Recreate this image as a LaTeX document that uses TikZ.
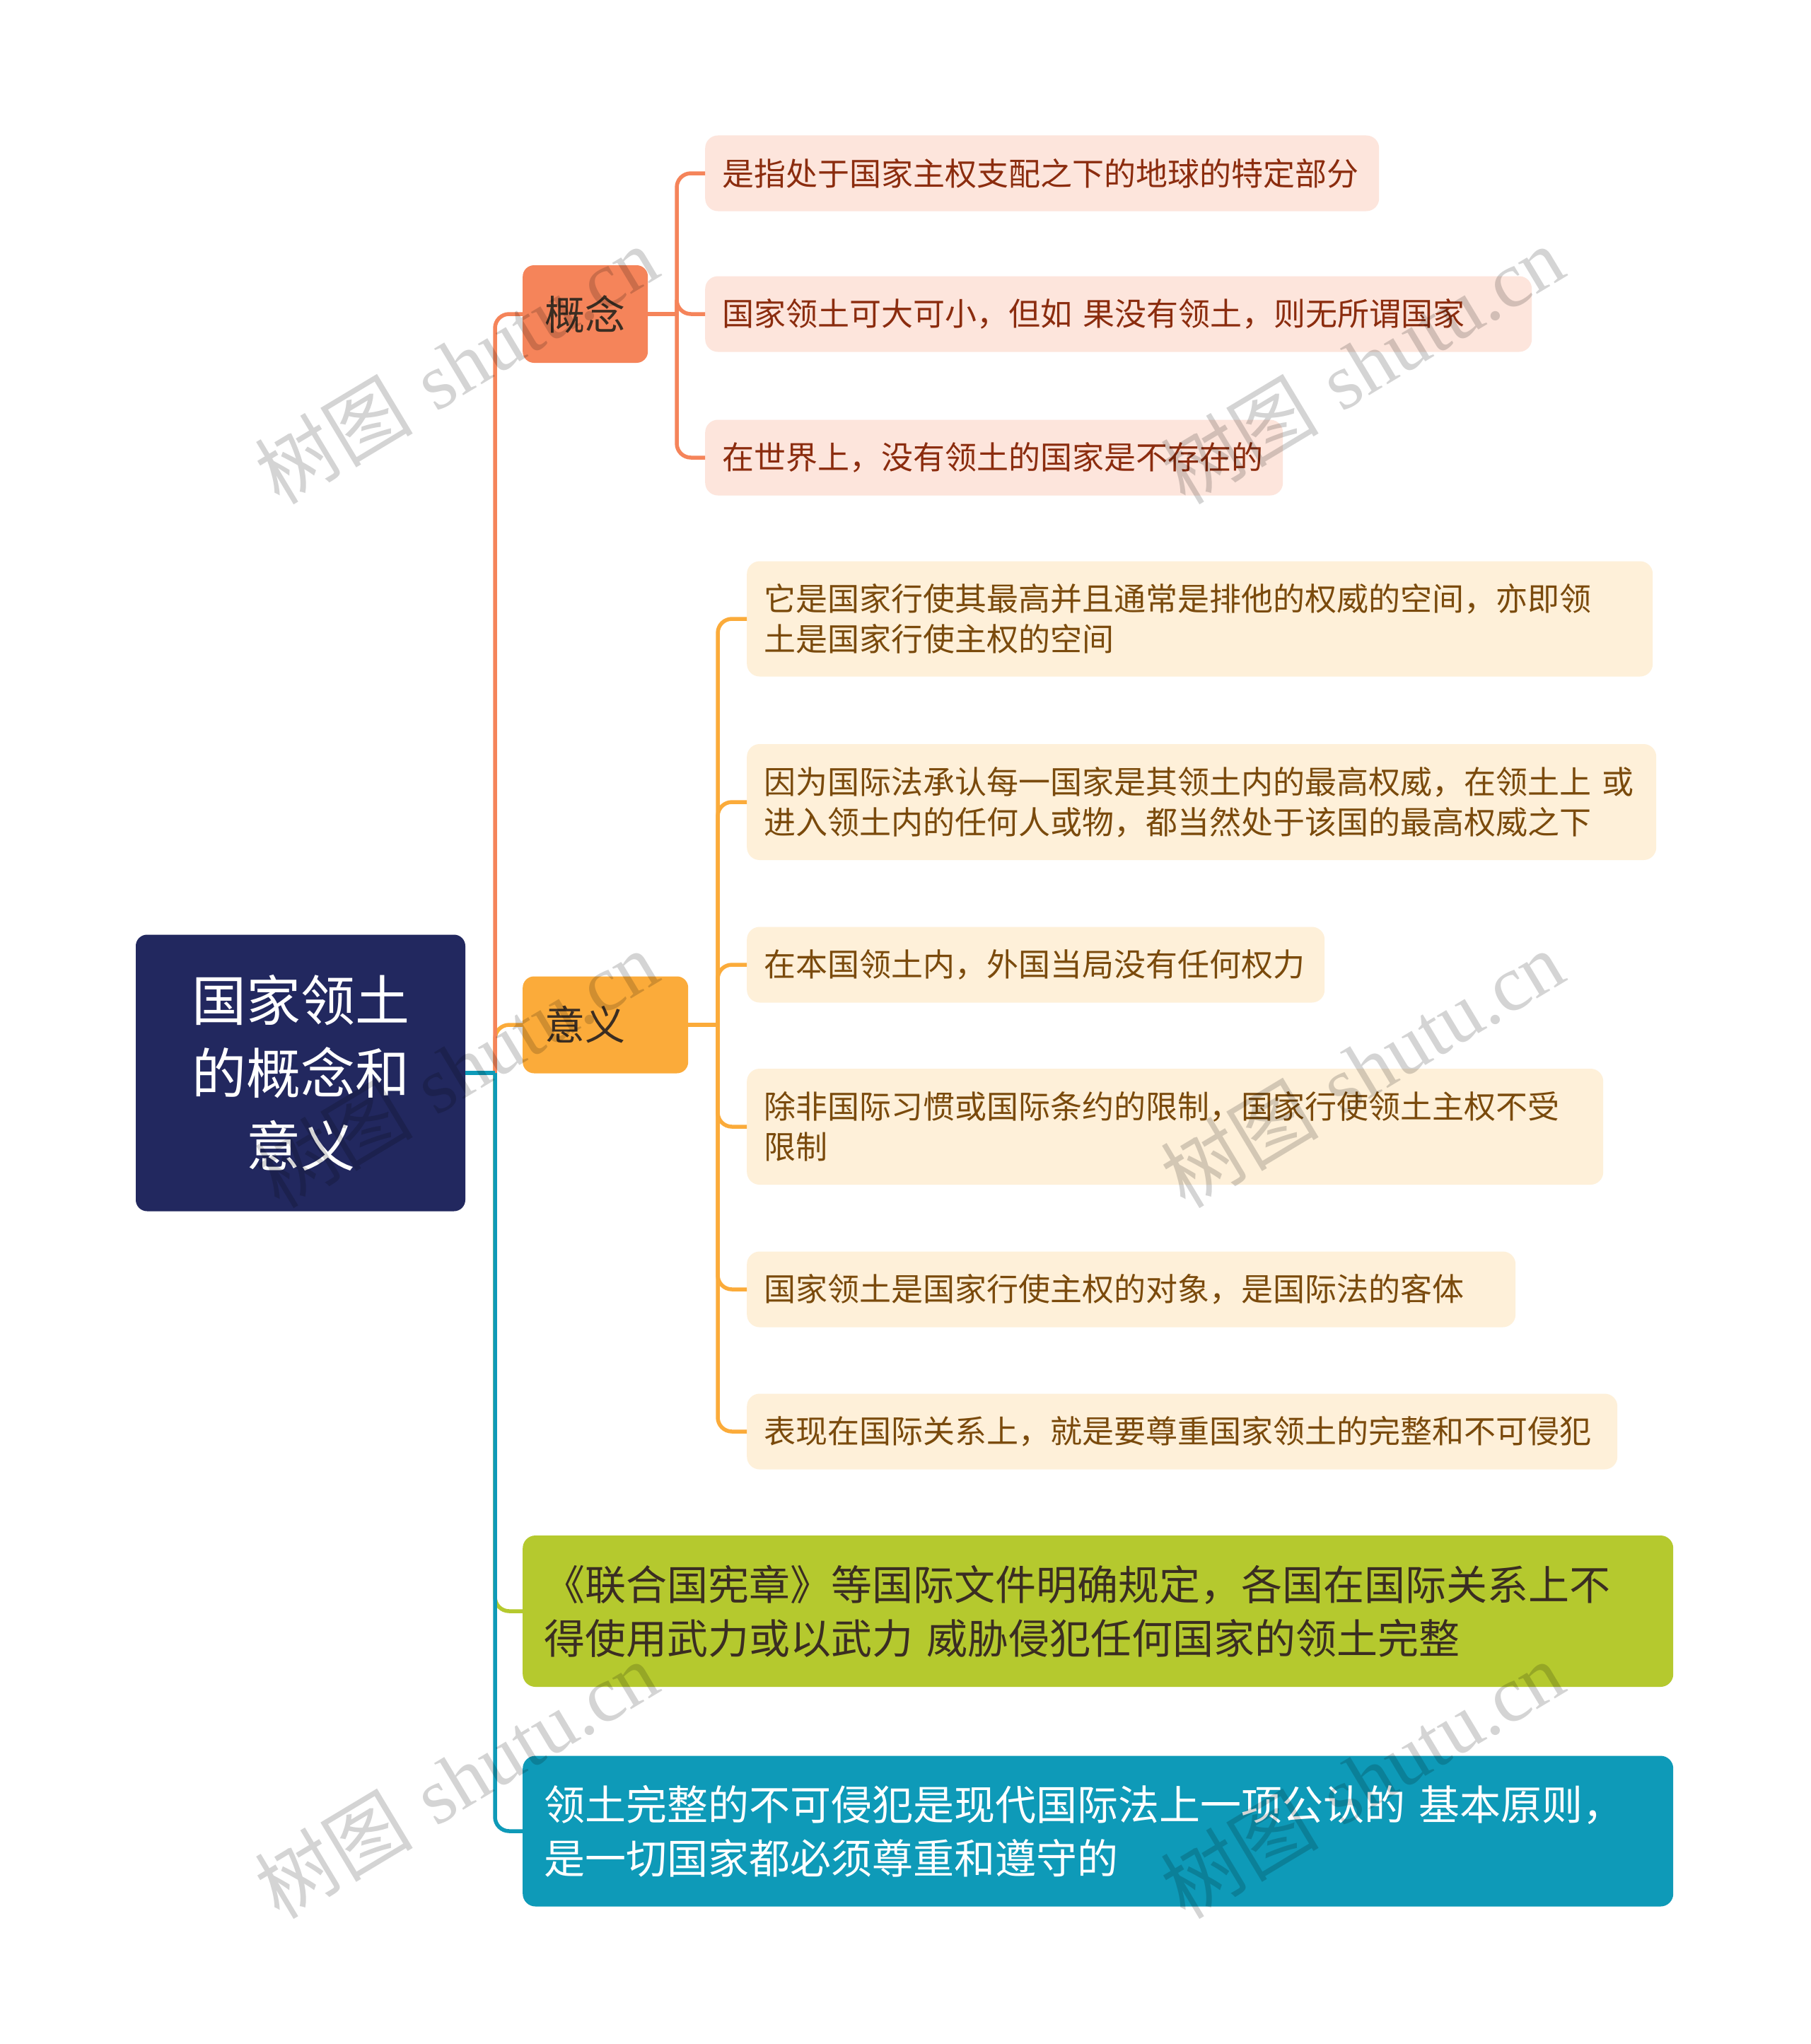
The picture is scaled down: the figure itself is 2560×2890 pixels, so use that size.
\documentclass[tikz,border=0pt]{standalone}
\usepackage{fontspec}
\newfontfamily\cjk{Noto Sans CJK SC}
\newfontfamily\wmlatin{Liberation Serif}
\definecolor{rootfill}{HTML}{22285F}
\definecolor{orangec}{HTML}{F5845A}
\definecolor{yellowc}{HTML}{FBAB3A}
\definecolor{greenc}{HTML}{B5C92E}
\definecolor{tealc}{HTML}{0E9AB8}
\definecolor{pinkfill}{HTML}{FDE5DC}
\definecolor{pinktext}{HTML}{8B2C0E}
\definecolor{creamfill}{HTML}{FEF0D9}
\definecolor{creamtext}{HTML}{7A4A0C}
\definecolor{darktext}{HTML}{3A2D22}
\tikzset{
  conn/.style={line width=5.5pt, rounded corners=20pt},
  basebox/.style={anchor=west, inner ysep=0pt, align=left, font=\cjk},
  rootbox/.style={fill=rootfill, text=white, rounded corners=16pt, align=center,
    font=\cjk\fontsize{77}{103}\selectfont, minimum width=466pt, minimum height=391pt},
  midbox/.style={basebox, rounded corners=16pt, text=darktext, inner xsep=31pt,
    font=\cjk\fontsize{57}{70}\selectfont},
  pinkleaf/.style={basebox, fill=pinkfill, text=pinktext, rounded corners=18pt,
    inner xsep=24pt, minimum height=107pt, font=\cjk\fontsize{45}{57}\selectfont},
  creamleaf/.style={basebox, fill=creamfill, text=creamtext, rounded corners=18pt,
    inner xsep=24pt, minimum height=107pt, font=\cjk\fontsize{45}{57}\selectfont},
  bigleaf/.style={basebox, rounded corners=18pt, inner xsep=30pt,
    minimum width=1627pt, text width=1567pt, font=\cjk\fontsize{58}{76}\selectfont},
  wm/.style={rotate=31, text=black, opacity=0.17, font=\fontsize{112}{120}\selectfont}
}
\begin{document}
\begin{tikzpicture}[x=1pt,y=-1pt]
\useasboundingbox[fill=white] (0,0) rectangle (2560,2890);

% root and main branches
\node[rootbox] (root) at (425,1517) {国家领土\\的概念和\\意义};
\node[midbox, fill=orangec, minimum width=177pt, text width=115pt, minimum height=138pt] (gn) at (739,444) {概念};
\node[midbox, fill=yellowc, minimum width=234pt, text width=172pt, minimum height=137pt] (yy) at (739,1449) {意义};
\node[bigleaf, fill=greenc, text=darktext, minimum height=214pt] (gr) at (739,2278)
  {《联合国宪章》等国际文件明确规定，各国在国际关系上不\\得使用武力或以武力~威胁侵犯任何国家的领土完整};
\node[bigleaf, fill=tealc, text=white, minimum height=213pt] (tl) at (739,2589)
  {领土完整的不可侵犯是现代国际法上一项公认的~基本原则，\\是一切国家都必须尊重和遵守的};

% 概念 children
\node[pinkleaf, minimum width=953pt, text width=905pt] (p1) at (997,245) {是指处于国家主权支配之下的地球的特定部分};
\node[pinkleaf, minimum width=1169pt, text width=1121pt] (p2) at (997,444) {国家领土可大可小，但如~果没有领土，则无所谓国家};
\node[pinkleaf, minimum width=817pt, text width=769pt] (p3) at (997,647) {在世界上，没有领土的国家是不存在的};

% 意义 children
\node[creamleaf, minimum width=1281pt, text width=1233pt, minimum height=163pt] (c1) at (1056,875)
  {它是国家行使其最高并且通常是排他的权威的空间，亦即领\\土是国家行使主权的空间};
\node[creamleaf, minimum width=1286pt, text width=1238pt, minimum height=164pt] (c2) at (1056,1134)
  {因为国际法承认每一国家是其领土内的最高权威，在领土上~或\\进入领土内的任何人或物，都当然处于该国的最高权威之下};
\node[creamleaf, minimum width=817pt, text width=769pt] (c3) at (1056,1364) {在本国领土内，外国当局没有任何权力};
\node[creamleaf, minimum width=1211pt, text width=1163pt, minimum height=164pt] (c4) at (1056,1593)
  {除非国际习惯或国际条约的限制，国家行使领土主权不受\\限制};
\node[creamleaf, minimum width=1087pt, text width=1039pt] (c5) at (1056,1823) {国家领土是国家行使主权的对象，是国际法的客体};
\node[creamleaf, minimum width=1231pt, text width=1183pt] (c6) at (1056,2024) {表现在国际关系上，就是要尊重国家领土的完整和不可侵犯};

% junctions
\coordinate (J) at (700,1517);
\coordinate (GJ) at (957,444);
\coordinate (YJ) at (1015,1449);

% main connectors
\draw[conn, greenc] (J) |- (gr.west);
\draw[conn, yellowc] (J) |- (yy.west);
\draw[conn, tealc] (J) |- (tl.west);
\draw[conn, orangec] (J) |- (gn.west);
\draw[conn, tealc] (root.east) -- (J);

% 概念 connectors
\draw[conn, orangec] (gn.east) -- (GJ);
\draw[conn, orangec] (GJ) |- (p1.west);
\draw[conn, orangec] (GJ) |- (p2.west);
\draw[conn, orangec] (GJ) |- (p3.west);

% 意义 connectors
\draw[conn, yellowc] (yy.east) -- (YJ);
\foreach \c in {c1,c2,c3,c4,c5,c6}{
  \draw[conn, yellowc] (YJ) |- (\c.west);
}

% watermarks
\foreach \wx/\wy [count=\i] in {645/516, 1926/516, 645/1511, 1926/1511, 645/2516, 1926/2516}{
  \node[wm] (wm\i) at (\wx,\wy) {{\cjk 树图}~{\wmlatin shutu.cn}};
}
\end{tikzpicture}
\end{document}
